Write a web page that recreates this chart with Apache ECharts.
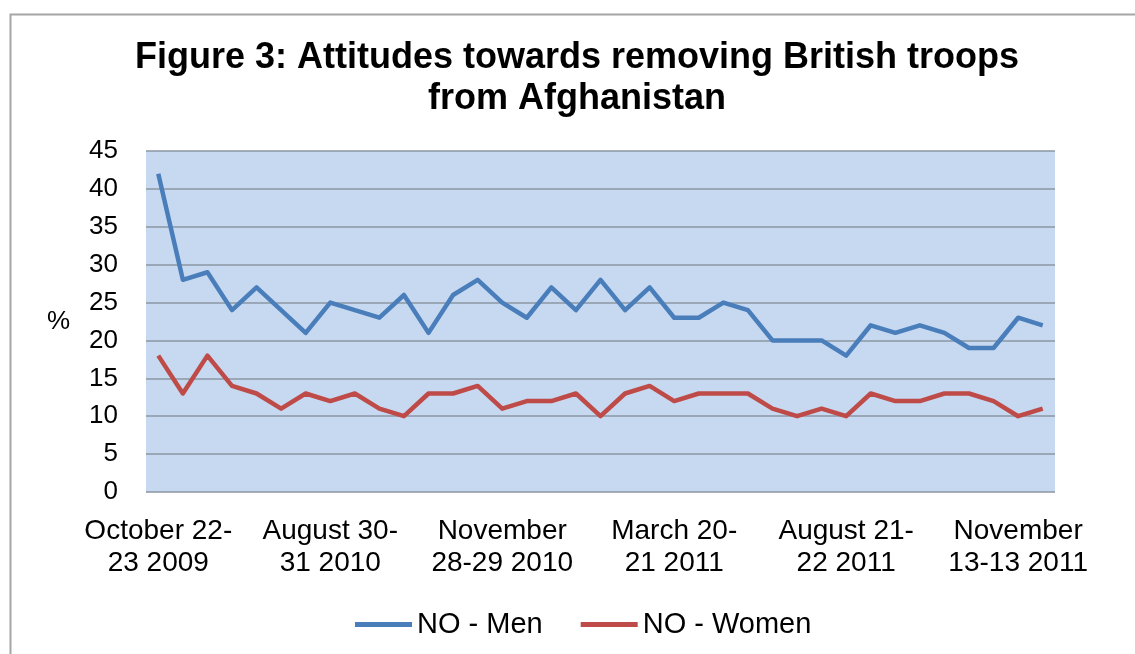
<!DOCTYPE html>
<html>
<head>
<meta charset="utf-8">
<script src="https://cdn.jsdelivr.net/npm/echarts@6/dist/echarts.min.js"></script>
<style>
html,body{margin:0;padding:0;background:#fff;}
#chart{width:1135px;height:654px;}
</style>
</head>
<body>
<div id="chart"></div>
<script>
// Tick labels shown every 7th survey
const tickLabels = [
  "October 22-\n23 2009",
  "August 30-\n31 2010",
  "November\n28-29 2010",
  "March 20-\n21 2011",
  "August 21-\n22 2011",
  "November\n13-13 2011"
];
const menValues = [42,28,29,24,27,24,21,25,24,23,26,21,26,28,25,23,27,24,28,24,27,23,23,25,24,20,20,20,18,22,21,22,21,19,19,23,22];
const womenValues = [18,13,18,14,13,11,13,12,13,11,10,13,13,14,11,12,12,13,10,13,14,12,13,13,13,11,10,11,10,13,12,12,13,13,12,10,11];
const seriesNames = ["NO - Men", "NO - Women"];
const titleText = "Figure 3: Attitudes towards removing British troops\nfrom Afghanistan";
const yTicks = {min: 0, max: 45, interval: 5};

const categories = menValues.map((_, i) => (i % 7 === 0 ? tickLabels[i / 7] : ""));

const FONT = "'Liberation Sans', Arial, sans-serif";
const chart = echarts.init(document.getElementById('chart'), null, {renderer: 'canvas'});
chart.setOption({
  animation: false,
  backgroundColor: '#ffffff',
  graphic: [{
    type: 'rect', left: 8, top: 12, z: -10,
    shape: {width: 1300, height: 800},
    style: {fill: 'none', stroke: '#a6a6a6', lineWidth: 2}
  }],
  title: {
    text: titleText,
    left: 572, top: 33,
    textAlign: 'center',
    textStyle: {fontFamily: FONT, fontSize: 36, fontWeight: 'bold', color: '#000', lineHeight: 41}
  },
  legend: {
    data: seriesNames,
    left: 350, top: 605,
    icon: 'rect', itemWidth: 57, itemHeight: 5, itemGap: 38,
    textStyle: {fontFamily: FONT, fontSize: 29, color: '#000'}
  },
  grid: {
    left: 146, right: 80, top: 151, bottom: 162,
    show: true, backgroundColor: '#c6d9f1', borderWidth: 0
  },
  xAxis: {
    type: 'category',
    data: categories,
    boundaryGap: true,
    axisLine: {show: false},
    axisTick: {show: false},
    splitLine: {show: false},
    axisLabel: {
      interval: 6, margin: 23,
      fontFamily: FONT, fontSize: 28, color: '#000', lineHeight: 32
    }
  },
  yAxis: {
    type: 'value',
    min: yTicks.min, max: yTicks.max, interval: yTicks.interval,
    name: '%', nameLocation: 'middle', nameRotate: 0, nameGap: 76,
    nameTextStyle: {fontFamily: FONT, fontSize: 26, color: '#000', padding: [14,0,0,0]},
    axisLine: {show: false},
    axisTick: {show: false},
    axisLabel: {margin: 28, fontFamily: FONT, fontSize: 26, color: '#000'},
    splitLine: {show: true, lineStyle: {color: '#8a96a2', width: 1.5}}
  },
  series: [
    {
      name: seriesNames[0], type: 'line', data: menValues,
      symbol: 'none', color: '#4a7ebb',
      lineStyle: {width: 4.5, color: '#4a7ebb', join: 'round'}
    },
    {
      name: seriesNames[1], type: 'line', data: womenValues,
      symbol: 'none', color: '#be4b48',
      lineStyle: {width: 4.5, color: '#be4b48', join: 'round'}
    }
  ]
});
</script>
</body>
</html>
